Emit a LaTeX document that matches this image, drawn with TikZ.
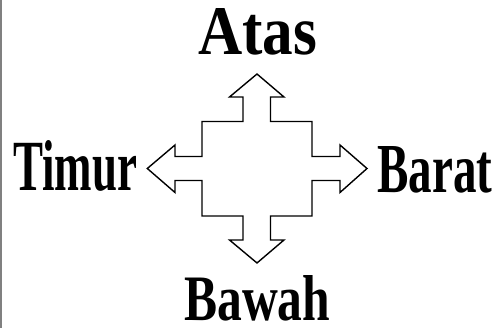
\documentclass[tikz,border=0pt]{standalone}
\usepackage{fontspec}
\setmainfont{Liberation Serif}
\usepackage{graphicx}
\newcommand{\wordbox}[3]{\resizebox{#1pt}{#2pt}{#3}}
\tikzset{
  dirlabel/.style={inner sep=0pt, anchor=base west, font=\bfseries},
  crossline/.style={draw=black, line width=1.4pt, line join=miter},
}

\begin{document}
\begin{tikzpicture}[x=1pt, y=-1pt]
    \useasboundingbox (0, 0) rectangle (499, 328);
    \draw[gray, line width=1.5pt] (1, 0) -- (1, 328);
    % the cross with four heads
    \draw[crossline] (257, 74) -- (284, 97) -- (270.5, 97) -- (270.5, 121.5)
        -- (312, 121.5) -- (312, 156.5) -- (340, 156.5) -- (340, 145)
        -- (367, 168.5) -- (340, 192.5) -- (340, 180.5) -- (312, 180.5)
        -- (312, 216) -- (270.5, 216) -- (270.5, 240) -- (284, 240)
        -- (257, 263) -- (229.5, 240) -- (243, 240) -- (243, 216)
        -- (202, 216) -- (202, 180.5) -- (175, 180.5) -- (175, 192.5)
        -- (147.3, 168.5) -- (175, 145) -- (175, 156.5) -- (202, 156.5)
        -- (202, 121.5) -- (243, 121.5) -- (243, 97) -- (229.5, 97) -- cycle;
    \node[dirlabel] (atas) at (198, 55) {\wordbox{119}{46}{Atas}};
    \node[dirlabel] (timur) at (13, 191) {\wordbox{124}{50}{Timur}};
    \node[dirlabel] (barat) at (377, 193) {\wordbox{115}{46}{Barat}};
    \node[dirlabel] (bawah) at (184, 321) {\wordbox{146}{45}{Bawah}};
\end{tikzpicture}
\end{document}
